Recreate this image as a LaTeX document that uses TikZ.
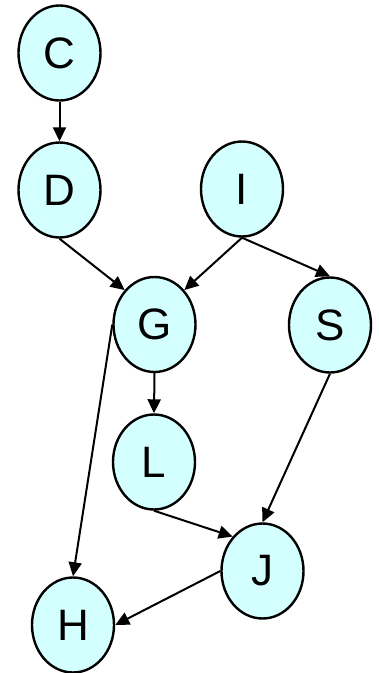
\documentclass[tikz,border=0pt]{standalone}
\usepackage{fontspec}
\setmainfont{Liberation Sans}
\usetikzlibrary{arrows.meta,shapes.geometric}
\definecolor{nodefill}{RGB}{212,255,255}
\begin{document}
\begin{tikzpicture}[x=1pt,y=-1pt,
  var/.style={ellipse,draw=black,line width=2.4pt,fill=nodefill,
    minimum width=82pt,minimum height=95pt,inner sep=0pt,
    font=\fontsize{44}{44}\selectfont},
  edge/.style={draw=black,line width=2pt,-{Triangle[length=14pt,width=13pt]}}]
\useasboundingbox (0,0) rectangle (379,673);
\node[var] (C) at (59.5,53) {C};
\node[var] (D) at (59.5,190) {D};
\node[var] (I) at (242,189) {I};
\node[var] (G) at (154.5,324.5) {G};
\node[var] (S) at (330,325) {S};
\node[var] (L) at (154,462) {L};
\node[var] (J) at (262.5,571) {J};
\node[var] (H) at (73,625) {H};
\draw[edge] (C.south) -- (D.north);
\draw[edge] (D.south) -- (G.north west);
\draw[edge] (I.south) -- (G.north east);
\draw[edge] (I.south) -- (S.north);
\draw[edge] (G.south) -- (L.north);
\draw[edge] (G.west) -- (H.north);
\draw[edge] (S.south) -- (J.north);
\draw[edge] (L.south) -- (J.north west);
\draw[edge] (J.west) -- (H.east);
\end{tikzpicture}
\end{document}
